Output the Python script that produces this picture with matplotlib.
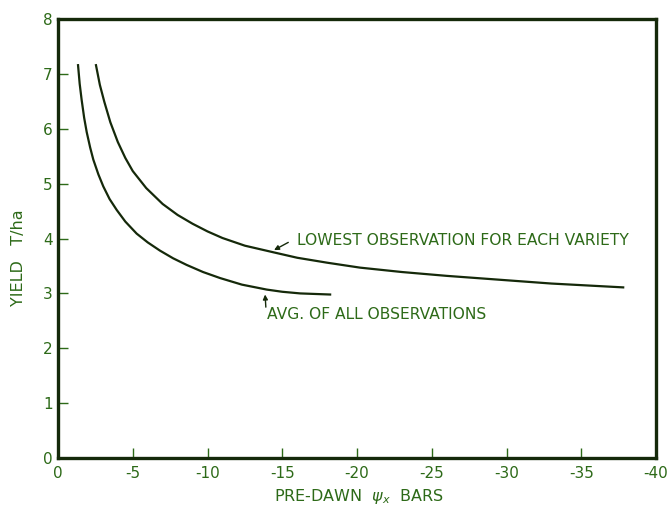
import matplotlib
matplotlib.use("Agg")
import matplotlib.pyplot as plt

# curves (pre-dawn water potential vs yield)
lowest_x = [-2.54, -2.8, -3.1, -3.5, -4.0, -4.5, -5.0, -5.9, -7.0, -8.0, -9.0, -10.0,
            -11.0, -12.5, -14.4, -16.0, -18.0, -20.2, -23.0, -26.0, -29.0, -33.0, -37.8]
lowest_y = [7.16, 6.80, 6.49, 6.12, 5.76, 5.47, 5.23, 4.92, 4.63, 4.43, 4.27, 4.13,
            4.01, 3.87, 3.75, 3.65, 3.56, 3.47, 3.39, 3.32, 3.26, 3.18, 3.11]

avg_x = [-1.34, -1.45, -1.58, -1.75, -1.92, -2.15, -2.36, -2.7, -3.03, -3.45, -3.93, -4.5,
         -5.26, -6.0, -6.82, -7.7, -8.6, -9.7, -10.84, -12.3, -13.96, -15.0, -16.2, -18.2]
avg_y = [7.16, 6.82, 6.53, 6.20, 5.94, 5.66, 5.44, 5.17, 4.95, 4.72, 4.52, 4.31,
         4.09, 3.93, 3.78, 3.64, 3.52, 3.39, 3.28, 3.16, 3.07, 3.03, 3.00, 2.98]

x_ticks = [0, -5, -10, -15, -20, -25, -30, -35, -40]
y_ticks = [0, 1, 2, 3, 4, 5, 6, 7, 8]

green = "#2d6a18"
ink = "#15290a"

fig = plt.figure(figsize=(6.69, 5.08), dpi=100)
ax = fig.add_axes([0.0867, 0.0984, 0.894, 0.864])

ax.plot(lowest_x, lowest_y, color=ink, linewidth=1.6, solid_joinstyle="round")
ax.plot(avg_x, avg_y, color=ink, linewidth=1.6, solid_joinstyle="round")

ax.set_xlim(0, -40)
ax.set_ylim(0, 8)
ax.set_xticks(x_ticks)
ax.set_xticklabels([str(t) if t == 0 else "-" + str(abs(t)) for t in x_ticks])
ax.set_yticks(y_ticks)

for s in ax.spines.values():
    s.set_linewidth(2.4)
    s.set_color(ink)
ax.tick_params(direction="in", length=7, width=1, color=green,
               labelcolor=green, labelsize=11)
ax.tick_params(axis="x", pad=6)
ax.tick_params(axis="y", pad=4)

ax.set_xlabel(r"PRE-DAWN  $\psi_x$  BARS", color=green, fontsize=11.5)
ax.xaxis.set_label_coords(0.503, -0.066)
ax.set_ylabel("YIELD   T/ha", color=green, fontsize=11.5)
ax.yaxis.set_label_coords(-0.054, 0.456)

# labels with their pointer arrows
ax.text(-15.97, 3.97, "LOWEST OBSERVATION FOR EACH VARIETY", color=green,
        fontsize=11.2, va="center", ha="left")
ax.annotate("", xy=(-14.45, 3.79), xytext=(-15.4, 3.93),
            arrowprops=dict(arrowstyle="-|>", color=ink, lw=1, shrinkA=0, shrinkB=0, mutation_scale=7))
ax.text(-13.96, 2.62, "AVG. OF ALL OBSERVATIONS", color=green,
        fontsize=11.2, va="center", ha="left")
ax.annotate("", xy=(-13.85, 2.98), xytext=(-13.9, 2.75),
            arrowprops=dict(arrowstyle="-|>", color=ink, lw=1, shrinkA=0, shrinkB=0, mutation_scale=7))

fig.savefig("out.png", dpi=100)
